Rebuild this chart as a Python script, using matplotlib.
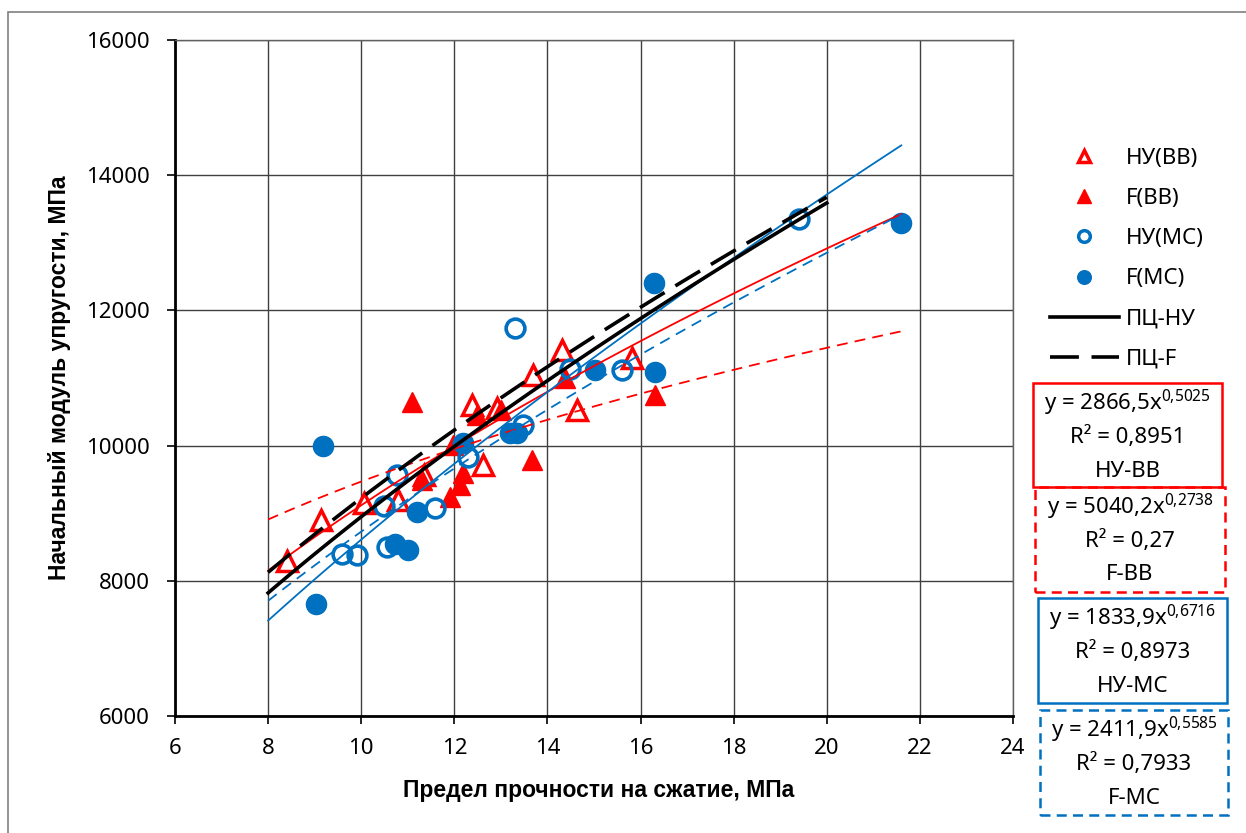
import numpy as np
import matplotlib
matplotlib.use('Agg')
import matplotlib.pyplot as plt
from matplotlib.lines import Line2D
from matplotlib.patches import Rectangle

plt.rcParams['font.family'] = ['Noto Sans', 'DejaVu Sans']
plt.rcParams['mathtext.fontset'] = 'custom'
plt.rcParams['mathtext.rm'] = 'Noto Sans'

# data
nu_bb_x = [8.4, 9.13, 10.05, 10.8, 11.35, 12.37, 12.62, 12.91, 13.7, 14.31, 14.63, 15.81]
nu_bb_y = [8300, 8900, 9150, 9200, 9560, 10600, 9710, 10550, 11040, 11410, 10530, 11290]

f_bb_x = [11.1, 11.3, 11.91, 11.98, 12.12, 12.19, 12.48, 13.0, 13.66, 14.38, 16.31]
f_bb_y = [10650, 9490, 9240, 10010, 9420, 9590, 10450, 10520, 9790, 11000, 10750]

nu_mc_x = [9.58, 9.9, 10.48, 10.55, 10.76, 11.59, 12.3, 13.3, 13.48, 14.49, 15.6, 19.4]
nu_mc_y = [8400, 8380, 9100, 8500, 9560, 9080, 9830, 11735, 10300, 11140, 11120, 13350]

f_mc_x = [9.03, 9.18, 10.73, 11.01, 11.19, 12.19, 13.2, 13.35, 15.02, 16.29, 16.31, 21.6]
f_mc_y = [7660, 10000, 8540, 8460, 9020, 10040, 10180, 10180, 11120, 12400, 11090, 13300]

# power trend lines y = a * x^b (coefficients from the chart)
trend_names = ['НУ-ВВ', 'F-ВВ', 'НУ-МС', 'F-МС']
trend_a = [2866.5, 5040.2, 1833.9, 2411.9]
trend_b = [0.5025, 0.2738, 0.6716, 0.5585]
trend_r2 = ['0,8951', '0,27', '0,8973', '0,7933']
trend_x = [8, 21.6]

# black reference curves ПЦ-НУ and ПЦ-F (estimated)
pc_a = [2232, 2494]
pc_b = [0.603, 0.568]
pc_x = [8, 20]

RED = '#FF0000'
BLUE = '#0070C0'

W, H = 1246, 833
fig = plt.figure(figsize=(W / 100, H / 100), dpi=100)
fig.patches.append(Rectangle((8 / W, -0.1), 1.2, 1 - 12 / H + 0.1, transform=fig.transFigure,
                             fill=False, edgecolor='#808080', linewidth=1.2))

ax = fig.add_axes([175 / W, 1 - 716 / H, (1013 - 175) / W, (716 - 40) / H])
ax.set_xlim(6, 24)
ax.set_ylim(6000, 16000)
ax.set_xticks(np.arange(6, 25, 2))
ax.set_yticks(np.arange(6000, 16001, 2000))
ax.grid(True, color='#404040', linewidth=1.0)
ax.set_axisbelow(True)
ax.tick_params(labelsize=16, length=6, width=1.2, direction='out')
ax.tick_params(axis='x', pad=10)
ax.tick_params(axis='y', pad=12)
for s in ['left', 'bottom']:
    ax.spines[s].set_linewidth(2)
    ax.spines[s].set_color('black')
for s in ['top', 'right']:
    ax.spines[s].set_linewidth(1)
    ax.spines[s].set_color('#606060')

ms = 13
ax.plot(nu_bb_x, nu_bb_y, linestyle='none', marker='^', markersize=ms + 1, markerfacecolor='white',
        markeredgecolor=RED, markeredgewidth=2.5, zorder=3)
ax.plot(f_bb_x, f_bb_y, linestyle='none', marker='^', markersize=ms + 2, color=RED, zorder=3)
ax.plot(nu_mc_x, nu_mc_y, linestyle='none', marker='o', markersize=ms + 0.5, markerfacecolor='none',
        markeredgecolor=BLUE, markeredgewidth=2.6, zorder=3)
ax.plot(f_mc_x, f_mc_y, linestyle='none', marker='o', markersize=ms + 1.5, color=BLUE, zorder=3)

trend_colors = [RED, RED, BLUE, BLUE]
trend_styles = ['-', (0, (6, 4)), '-', (0, (6, 4))]
xs = np.linspace(trend_x[0], trend_x[1], 100)
for a, b, c, ls in zip(trend_a, trend_b, trend_colors, trend_styles):
    ax.plot(xs, a * xs ** b, color=c, linestyle=ls, linewidth=1.3, zorder=4)

xp = np.linspace(pc_x[0], pc_x[1], 100)
ax.plot(xp, pc_a[0] * xp ** pc_b[0], color='black', linewidth=2.6, zorder=4)
ax.plot(xp, pc_a[1] * xp ** pc_b[1], color='black', linewidth=2.6, linestyle=(0, (8, 3.5)), zorder=4)

label_font = ['Liberation Sans', 'DejaVu Sans']
fig.text(599 / W, 1 - 790 / H, 'Предел прочности на сжатие, МПа', ha='center', va='center',
         fontsize=16.5, fontweight='bold', family=label_font)
fig.text(60 / W, 1 - 378 / H, 'Начальный модуль упругости, МПа', ha='center', va='center',
         rotation=90, fontsize=16.5, fontweight='bold', family=label_font)

handles = [
    Line2D([], [], linestyle='none', marker='^', markersize=ms, markerfacecolor='white',
           markeredgecolor=RED, markeredgewidth=2.5),
    Line2D([], [], linestyle='none', marker='^', markersize=ms + 1, color=RED),
    Line2D([], [], linestyle='none', marker='o', markersize=ms - 1, markerfacecolor='none',
           markeredgecolor=BLUE, markeredgewidth=2.5),
    Line2D([], [], linestyle='none', marker='o', markersize=ms + 1, color=BLUE),
    Line2D([], [], color='black', linewidth=2.6),
    Line2D([], [], color='black', linewidth=2.6, linestyle=(0, (8, 3.5))),
]
labels = ['НУ(ВВ)', 'F(ВВ)', 'НУ(МС)', 'F(МС)', 'ПЦ-НУ', 'ПЦ-F']
fig.legend(handles, labels, loc='upper left', bbox_to_anchor=(1050 / W, 1 - 148 / H),
           frameon=False, fontsize=16, handlelength=3.1, handletextpad=0.3,
           labelspacing=0.86, markerscale=0.7, borderaxespad=0, borderpad=0)

# equation boxes
box_rects = [(1033, 383, 1222, 487), (1035, 487, 1225, 592), (1038, 598, 1227, 703), (1040, 710, 1228, 815)]
box_ls = ['-', (0, (4, 2.5)), '-', (0, (4, 2.5))]
for i, (x0, y0, x1, y1) in enumerate(box_rects):
    fig.patches.append(Rectangle((x0 / W, 1 - y1 / H), (x1 - x0) / W, (y1 - y0) / H,
                                 transform=fig.transFigure, fill=False, edgecolor=trend_colors[i],
                                 linewidth=1.8, linestyle=box_ls[i]))
    cx = (x0 + x1) / 2
    a_txt = f'{trend_a[i]:.1f}'.replace('.', ',')
    b_txt = f'{trend_b[i]:.4f}'.replace('.', '{,}')
    lines = [f'y = {a_txt}x$^{{{b_txt}}}$', f'R² = {trend_r2[i]}', trend_names[i]]
    for k, t in enumerate(lines):
        fig.text(cx / W, 1 - (y0 + 20 + k * 34) / H, t, ha='center', va='center', fontsize=16)

fig.savefig('out.png', dpi=100)
